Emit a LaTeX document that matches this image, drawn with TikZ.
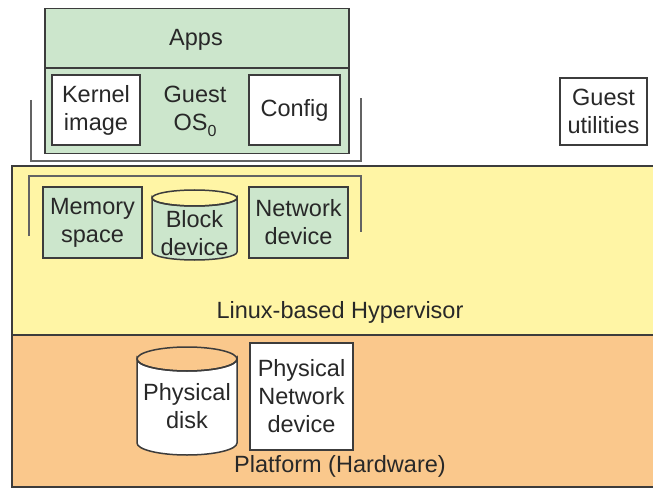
\documentclass[tikz,border=0pt]{standalone}
\usepackage{fontspec}
\setmainfont{Liberation Sans}
\definecolor{gfill}{RGB}{204,230,204}
\definecolor{yfill}{RGB}{255,245,165}
\definecolor{ofill}{RGB}{250,200,140}
\definecolor{linec}{RGB}{60,60,60}
\definecolor{txt}{RGB}{40,40,40}
\begin{document}
\begin{tikzpicture}[x=1pt,y=-1pt,
  every node/.style={align=center, inner sep=0pt, text=txt, font=\fontsize{23.5}{28}\selectfont},
  box/.style={draw=linec, line width=1.5pt},
  gbox/.style={box, fill=gfill},
  wbox/.style={box, fill=white},
  bracketline/.style={draw=linec!80, line width=1.5pt},
  layerline/.style={draw=linec, line width=2pt}]
\useasboundingbox (0,0) rectangle (653,489);
% layers
\fill[yfill] (12,166) rectangle (653,335);
\fill[ofill] (12,335) rectangle (653,487);
\draw[layerline] (653,166) -- (12,166) -- (12,487) -- (653,487);
\draw[layerline] (12,335) -- (653,335);
% guest OS
\node[gbox, minimum width=304, minimum height=145, anchor=north west] (guest) at (44,8) {};
\coordinate (appsl) at (44,68);
\coordinate (appsr) at (348,68);
\draw[box] (appsl) -- (appsr);
\node (apps) at (196,39.5) {Apps};
\node[wbox, minimum width=88, minimum height=70] (kernel) at (96,110) {Kernel\\image};
\node[wbox, minimum width=91, minimum height=70] (config) at (294.5,110) {Config};
\node (guestos) at (195,111) {Guest\\OS\raisebox{-6pt}{\fontsize{16}{16}\selectfont 0}};
% brackets
\coordinate (b1) at (31,100);
\coordinate (b2) at (31,161);
\coordinate (b3) at (361,161);
\coordinate (b4) at (361,98);
\draw[bracketline] (b1) -- (b2) -- (b3) -- (b4);
\coordinate (c1) at (29,236);
\coordinate (c2) at (29,176);
\coordinate (c3) at (361,176);
\coordinate (c4) at (361,232);
\draw[bracketline] (c1) -- (c2) -- (c3) -- (c4);
% guest utilities
\node[wbox, minimum width=87, minimum height=67] (utils) at (603.5,111.5) {Guest\\utilities};
% hypervisor devices
\node[gbox, minimum width=99, minimum height=71] (mem) at (92.5,222.5) {Memory\\space};
\node[gbox, minimum width=99, minimum height=71] (net) at (298.5,222.5) {Network\\device};
\filldraw[box, fill=gfill] (152,198) -- (152,252) arc[start angle=180, end angle=0, x radius=42.5, y radius=8] -- (237,198) arc[start angle=0, end angle=180, x radius=42.5, y radius=8] -- cycle;
\draw[box] (194.5,198) ellipse[x radius=42.5, y radius=8];
\node (block) at (194.5,233) {Block\\device};
\node (hyp) at (340,312) {Linux-based Hypervisor};
% platform
\filldraw[box, fill=white] (137,359) -- (137,443) arc[start angle=180, end angle=0, x radius=50, y radius=12] -- (237,359) arc[start angle=0, end angle=180, x radius=50, y radius=12] -- cycle;
\draw[box] (187,359) ellipse[x radius=50, y radius=12];
\node (disk) at (187,406) {Physical\\disk};
\node[wbox, minimum width=103, minimum height=107] (pnet) at (301.5,396.5) {Physical\\Network\\device};
\node (plat) at (340,466.5) {Platform (Hardware)};
\end{tikzpicture}
\end{document}
